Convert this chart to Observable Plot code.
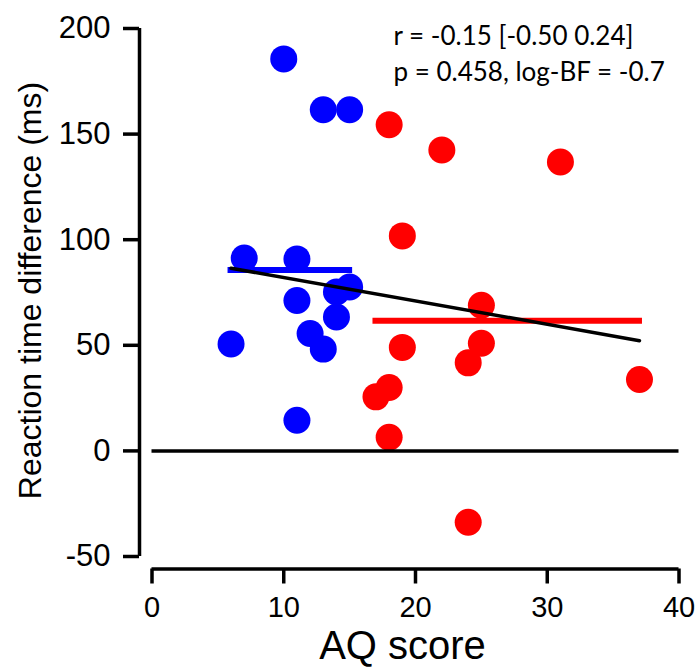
<!DOCTYPE html>
<html>
<head>
<meta charset="utf-8">
<script src="https://cdn.jsdelivr.net/npm/d3@7"></script>
<script src="https://cdn.jsdelivr.net/npm/@observablehq/plot@0.6"></script>
<style>
  html, body { margin: 0; padding: 0; background: #fff; }
  #chart { width: 696px; height: 668px; }
</style>
</head>
<body>
<div id="chart"></div>
<script>
// --- data ---
const blueAQ = [10, 13, 15, 7, 11, 11, 6, 11, 12, 13, 14, 14, 15];
const blueRT = [185.6, 161.5, 161.5, 91.3, 90.9, 71.2, 50.6, 14.5, 55.6, 48.2, 63.4, 75.2, 77.6];
const redAQ  = [18, 22, 31, 19, 25, 19, 25, 24, 18, 17, 18, 24, 37];
const redRT  = [154.4, 142.5, 136.8, 101.8, 69, 49, 51, 41.7, 30, 25.6, 6.5, -33.8, 33.8];

const blueMeanX = [6, 15];   const blueMean = 85.6;
const redMeanX  = [17, 37];  const redMean  = 61.6;
const regX = [6, 37];
const regY = [86.5, 52.2];

const xTicks = [0, 10, 20, 30, 40];
const yTicks = [-50, 0, 50, 100, 150, 200];
const xLabel = "AQ score";
const yLabel = "Reaction time difference (ms)";
const statLines = ["r = -0.15 [-0.50 0.24]", "p = 0.458, log-BF = -0.7"];

// --- tables built from the arrays ---
const blue = blueAQ.map((x, i) => ({x, y: blueRT[i]}));
const red = redAQ.map((x, i) => ({x, y: redRT[i]}));
const reg = regX.map((x, i) => ({x, y: regY[i]}));
const means = [
  {x1: blueMeanX[0], x2: blueMeanX[1], y: blueMean, c: "#0000ff"},
  {x1: redMeanX[0], x2: redMeanX[1], y: redMean, c: "#ff0000"}
];

const sans = "Liberation Sans, Arial, sans-serif";

const chart = Plot.plot({
  width: 696,
  height: 668,
  marginLeft: 151.5,
  marginRight: 17.5,
  marginTop: 28,
  marginBottom: 112,
  style: {background: "#fff", color: "#000", fontFamily: sans},
  x: {domain: [0, 40]},
  y: {domain: [-50, 200]},
  marks: [
    // y axis (offset to the left)
    Plot.ruleX([0], {y1: -50, y2: 200, dx: -12.5, strokeWidth: 3.5, stroke: "#000"}),
    Plot.axisY({ticks: yTicks, tickSize: 16, dx: -12.5, tickPadding: 13, strokeWidth: 3.5,
      fontSize: 31, fontFamily: sans, tickFormat: d => String(d), label: null}),
    // x axis (offset downward)
    Plot.ruleY([-50], {x1: 0, x2: 40, dy: 12.5, strokeWidth: 3.5, stroke: "#000"}),
    Plot.axisX({ticks: xTicks, tickSize: 15, dy: 12.5, tickPadding: 12, strokeWidth: 3.5,
      fontSize: 29, fontFamily: sans, tickFormat: d => String(d), label: null}),
    // axis titles
    Plot.text([xLabel], {frameAnchor: "bottom", text: d => d, textAnchor: "middle", dx: -13, dy: 102,
      lineAnchor: "bottom", fontSize: 40, fontFamily: sans, fill: "#000"}),
    Plot.text([yLabel], {frameAnchor: "left", text: d => d, textAnchor: "middle", rotate: -90, dx: -111, dy: -2,
      lineAnchor: "bottom", fontSize: 32, fontFamily: sans, fill: "#000"}),
    // points
    Plot.dot(blue, {x: "x", y: "y", r: 13.5, fill: "#0000ff", stroke: "none"}),
    Plot.dot(red, {x: "x", y: "y", r: 13.5, fill: "#ff0000", stroke: "none"}),
    // group means
    Plot.ruleY(means, {x1: "x1", x2: "x2", y: "y", stroke: "c", strokeWidth: 6, strokeLinecap: "square"}),
    // regression line
    Plot.line(reg, {x: "x", y: "y", stroke: "#000", strokeWidth: 3.5}),
    // zero line
    Plot.ruleY([0], {x1: 0, x2: 40, stroke: "#000", strokeWidth: 3.5}),
    // statistics annotation
    Plot.text([statLines.join("\n")], {frameAnchor: "top-left", text: d => d, textAnchor: "start",
      dx: 241.5, dy: 52, lineAnchor: "bottom", lineHeight: 1.35, fontSize: 26,
      fontFamily: "Lato, sans-serif", fill: "#000"})
  ]
});

document.getElementById("chart").appendChild(chart);
</script>
</body>
</html>
